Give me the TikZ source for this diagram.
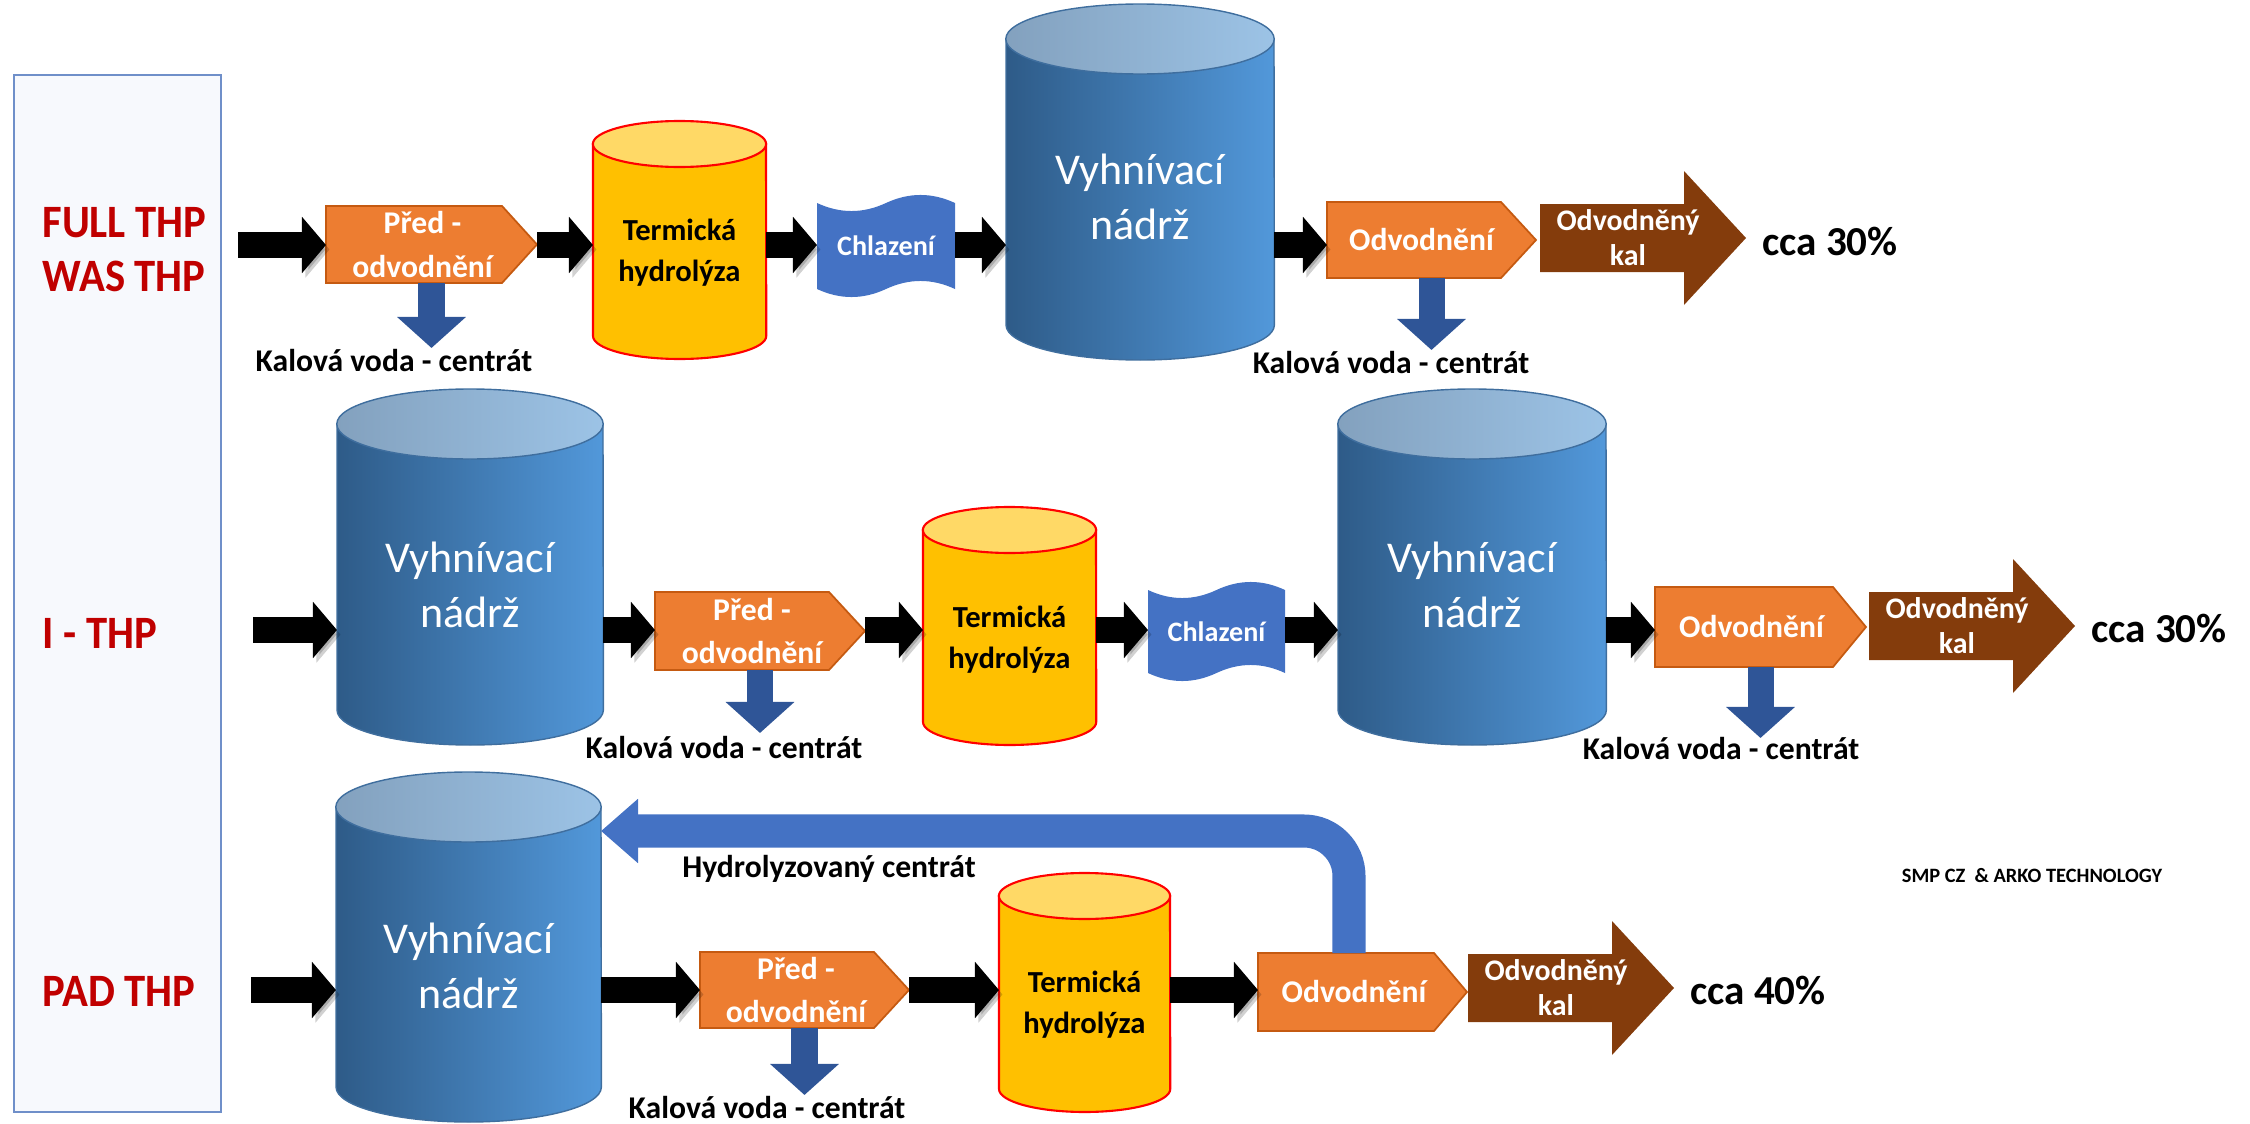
\documentclass[tikz,border=0pt]{standalone}
\usepackage{fontspec}
\setmainfont{Carlito}
\newfontfamily\labelfont{Carlito}[FakeStretch=0.92]
\usetikzlibrary{arrows.meta}

\definecolor{labelred}{HTML}{C00000}
\definecolor{panelfill}{HTML}{F7F9FD}
\definecolor{paneledge}{HTML}{6F8FC9}
\definecolor{tankL}{HTML}{2E5B88}
\definecolor{tankR}{HTML}{5298DA}
\definecolor{tankedge}{HTML}{3F6E9E}
\definecolor{topL}{HTML}{83A1BE}
\definecolor{topR}{HTML}{9CC3E6}
\definecolor{hydyellow}{HTML}{FFC000}
\definecolor{hydlight}{HTML}{FFD966}
\definecolor{orangefill}{HTML}{ED7D31}
\definecolor{orangeedge}{HTML}{C55A11}
\definecolor{tapeblue}{HTML}{4472C4}
\definecolor{drainblue}{HTML}{2F5597}
\definecolor{kalbrown}{HTML}{843C0C}

% vertical tank: name, x0, y0, x1, y1, ellipse radius, body style, top style
\newcommand\drawTank[8]{%
  \path[#7] (#2,#3+#6) -- (#2,#5-#6)
    arc[start angle=180,end angle=360,x radius={(#4-#2)*0.005cm},y radius={(#6)*0.01cm}]
    -- (#4,#3+#6) -- cycle;
  \path[#8] ({(#2+#4)/2},#3+#6) ellipse[x radius={(#4-#2)*0.005cm},y radius={(#6)*0.01cm}];
  \node[shapebox,minimum width={(#4-#2)*0.01cm},minimum height={(#5-#3)*0.01cm}] (#1)
    at ({(#2+#4)/2},{(#3+#5)/2}) {};}

% process step with pointed right side: name, x0, y0, x1, y1, x where the point starts
\newcommand\drawPent[6]{%
  \path[pentfill] (#2,#3) -- (#6,#3) -- (#4,{(#3+#5)/2}) -- (#6,#5) -- (#2,#5) -- cycle;
  \node[shapebox,minimum width={(#4-#2)*0.01cm},minimum height={(#5-#3)*0.01cm}] (#1)
    at ({(#2+#4)/2},{(#3+#5)/2}) {};}

% cooling step drawn as a wavy tape: name, x0, y0, x1, y1
\newcommand\drawTape[5]{%
  \path[tapefill] (#2,#3+8)
    .. controls ({#2+(#4-#2)/6},#3+18.7) and ({#2+(#4-#2)/3},#3+18.7) .. ({(#2+#4)/2},#3+8)
    .. controls ({#2+2*(#4-#2)/3},#3-2.7) and ({#2+5*(#4-#2)/6},#3-2.7) .. (#4,#3+8)
    -- (#4,#5-8)
    .. controls ({#4-(#4-#2)/6},#5-18.7) and ({#4-(#4-#2)/3},#5-18.7) .. ({(#2+#4)/2},#5-8)
    .. controls ({#2+(#4-#2)/3},#5+2.7) and ({#2+(#4-#2)/6},#5+2.7) .. (#2,#5-8)
    -- cycle;
  \node[shapebox,minimum width={(#4-#2)*0.01cm},minimum height={(#5-#3)*0.01cm}] (#1)
    at ({(#2+#4)/2},{(#3+#5)/2}) {};}

% dewatered sludge output arrow: name, x0, centre y
\newcommand\drawCake[3]{%
  \path[kalfill] (#2,#3-34) -- (#2+144,#3-34) -- (#2+144,#3-67) -- (#2+206,#3)
    -- (#2+144,#3+67) -- (#2+144,#3+34) -- (#2,#3+34) -- cycle;
  \node[kaltext] (#1) at (#2+88,#3) {Odvodněný\\kal};}

\begin{document}
\begin{tikzpicture}[x=0.01cm,y=-0.01cm,
  shapebox/.style={rectangle,inner sep=0pt,outer sep=0pt},
  tankbody/.style={left color=tankL,right color=tankR,draw=tankedge,line width=0.4pt},
  tanktop/.style={left color=topL,right color=topR,draw=tankedge,line width=0.4pt},
  hydbody/.style={fill=hydyellow,draw=red,line width=0.6pt},
  hydtop/.style={fill=hydlight,draw=red,line width=0.6pt},
  pentfill/.style={fill=orangefill,draw=orangeedge,line width=0.5pt},
  tapefill/.style={fill=tapeblue},
  kalfill/.style={fill=kalbrown},
  flow/.style={draw=black,line width=0.25cm,-{Triangle[length=0.24cm,width=0.55cm]},
    preaction={draw=black,opacity=0.18,transform canvas={shift={(0.035cm,-0.045cm)}}}},
  drain/.style={draw=drainblue,line width=0.26cm,-{Triangle[length=0.31cm,width=0.67cm]}},
  recycle/.style={draw=tapeblue,line width=0.33cm,rounded corners=0.45cm,-{Triangle[length=0.37cm,width=0.62cm]}},
  tanktext/.style={text=white,align=center,font=\fontsize{12.5}{15.6}\selectfont},
  hydtext/.style={text=black,align=center,font=\fontsize{8.7}{11.7}\selectfont\bfseries},
  whitebold/.style={text=white,align=center,font=\fontsize{9}{12.5}\selectfont\bfseries},
  tapetext/.style={text=white,font=\fontsize{8}{10}\selectfont\bfseries},
  kaltext/.style={text=white,align=center,font=\fontsize{8.5}{10}\selectfont\bfseries},
  rowlabel/.style={text=labelred,anchor=west,align=left,font=\labelfont\fontsize{13.2}{15.4}\selectfont\bfseries},
  droplabel/.style={text=black,font=\fontsize{9}{11}\selectfont\bfseries},
  yieldlabel/.style={text=black,font=\fontsize{11.7}{14}\selectfont\bfseries},
  credit/.style={text=black,font=\fontsize{5.8}{7}\selectfont\bfseries}]
\useasboundingbox (0,0) rectangle (2250,1124);

% side panel with the process names
\node[shapebox,draw=paneledge,fill=panelfill,line width=0.6pt,minimum width=2.07cm,minimum height=10.37cm] (panel) at (117.5,593.5) {};
\node[rowlabel] (lab1) at (30,250) {FULL THP\\WAS THP};
\node[rowlabel] (lab2) at (30,633) {I - THP};
\node[rowlabel] (lab3) at (30,991) {PAD THP};

% ---------- FULL THP / WAS THP ----------
\coordinate (r1) at (0,245);
\coordinate (s1) at (238,245);
\drawPent{p1}{326}{206}{537}{283}{502}
\drawTank{t1}{593}{121}{766}{359}{23}{hydbody}{hydtop}
\drawTape{ch1}{817}{195}{955}{297}
\drawTank{v1}{1006}{4}{1274}{360}{35}{tankbody}{tanktop}
\drawPent{o1}{1327}{202}{1536}{278}{1501}
\drawCake{cake1}{1540}{238}

\draw[flow] (s1) -- (s1 -| p1.west);
\draw[flow] (p1.east |- r1) -- (r1 -| t1.west);
\draw[flow] (t1.east |- r1) -- (r1 -| ch1.west);
\draw[flow] (ch1.east |- r1) -- (r1 -| v1.west);
\draw[flow] (v1.east |- r1) -- (r1 -| o1.west);
\draw[drain] (p1.south) -- ++(0,65);
\draw[drain] (o1.south) -- ++(0,72);

\node[whitebold] (p1t) at ([xshift=-0.09cm]p1.center) {Před -\\odvodnění};
\node[hydtext] (t1t) at ([yshift=-0.13cm]t1.center) {Termická\\hydrolýza};
\node[tapetext] (ch1t) at (ch1.center) {Chlazení};
\node[tanktext] (v1t) at ([yshift=-0.15cm]v1.center) {Vyhnívací\\nádrž};
\node[whitebold] (o1t) at ([xshift=-0.1cm]o1.center) {Odvodnění};
\node[droplabel] (w1a) at (394,361) {Kalová voda - centrát};
\node[droplabel] (w1b) at (1391,363) {Kalová voda - centrát};
\node[yieldlabel] (y1) at (1830,241) {cca 30\%};

% ---------- I - THP ----------
\coordinate (r2) at (0,630);
\coordinate (s2) at (253,630);
\drawTank{v2}{337}{389}{603}{745}{35}{tankbody}{tanktop}
\drawPent{p2}{655}{592}{865}{670}{829}
\drawTank{t2}{923}{507}{1096}{745}{23}{hydbody}{hydtop}
\drawTape{ch2}{1148}{582}{1285}{681}
\drawTank{v3}{1338}{389}{1606}{745}{35}{tankbody}{tanktop}
\drawPent{o2}{1655}{587}{1866}{667}{1833}
\drawCake{cake2}{1869}{626}

\draw[flow] (s2) -- (s2 -| v2.west);
\draw[flow] (v2.east |- r2) -- (r2 -| p2.west);
\draw[flow] (p2.east |- r2) -- (r2 -| t2.west);
\draw[flow] (t2.east |- r2) -- (r2 -| ch2.west);
\draw[flow] (ch2.east |- r2) -- (r2 -| v3.west);
\draw[flow] (v3.east |- r2) -- (r2 -| o2.west);
\draw[drain] (p2.south) -- ++(0,63);
\draw[drain] (o2.south) -- ++(0,71);

\node[tanktext] (v2t) at ([yshift=-0.18cm]v2.center) {Vyhnívací\\nádrž};
\node[whitebold] (p2t) at ([xshift=-0.08cm]p2.center) {Před -\\odvodnění};
\node[hydtext] (t2t) at ([yshift=-0.14cm]t2.center) {Termická\\hydrolýza};
\node[tapetext] (ch2t) at (ch2.center) {Chlazení};
\node[tanktext] (v3t) at ([yshift=-0.18cm]v3.center) {Vyhnívací\\nádrž};
\node[whitebold] (o2t) at ([xshift=-0.09cm]o2.center) {Odvodnění};
\node[droplabel] (w2a) at (724,748) {Kalová voda - centrát};
\node[droplabel] (w2b) at (1721,749) {Kalová voda - centrát};
\node[yieldlabel] (y2) at (2159,628) {cca 30\%};

% ---------- PAD THP ----------
\coordinate (r3) at (0,990);
\coordinate (s3) at (251,990);
\coordinate (rc) at (1349,831);
\drawTank{v4}{336}{772}{601}{1122}{35}{tankbody}{tanktop}
\drawPent{p3}{700}{952}{909}{1028}{874}
\drawTank{t3}{999}{873}{1170}{1112}{23}{hydbody}{hydtop}
\drawPent{o3}{1258}{953}{1467}{1031}{1434}
\drawCake{cake3}{1468}{988}

\draw[flow] (s3) -- (s3 -| v4.west);
\draw[flow] (v4.east |- r3) -- (r3 -| p3.west);
\draw[flow] (p3.east |- r3) -- (r3 -| t3.west);
\draw[flow] (t3.east |- r3) -- (r3 -| o3.west);
\draw[drain] (p3.south) -- ++(0,67);
\draw[recycle] (o3.north -| rc) -- (rc) -- (rc -| v4.east);

\node[tanktext] (v4t) at ([yshift=-0.19cm]v4.center) {Vyhnívací\\nádrž};
\node[whitebold] (p3t) at ([xshift=-0.085cm]p3.center) {Před -\\odvodnění};
\node[hydtext] (t3t) at ([yshift=-0.12cm]t3.center) {Termická\\hydrolýza};
\node[whitebold] (o3t) at ([xshift=-0.085cm]o3.center) {Odvodnění};
\node[droplabel] (w3) at (767,1108) {Kalová voda - centrát};
\node[droplabel] (hc) at (829,869) {Hydrolyzovaný centrát};
\node[yieldlabel] (y3) at (1758,990) {cca 40\%};
\node[credit] (smp) at (2032,876) {SMP CZ \ \& ARKO TECHNOLOGY};
\end{tikzpicture}
\end{document}
